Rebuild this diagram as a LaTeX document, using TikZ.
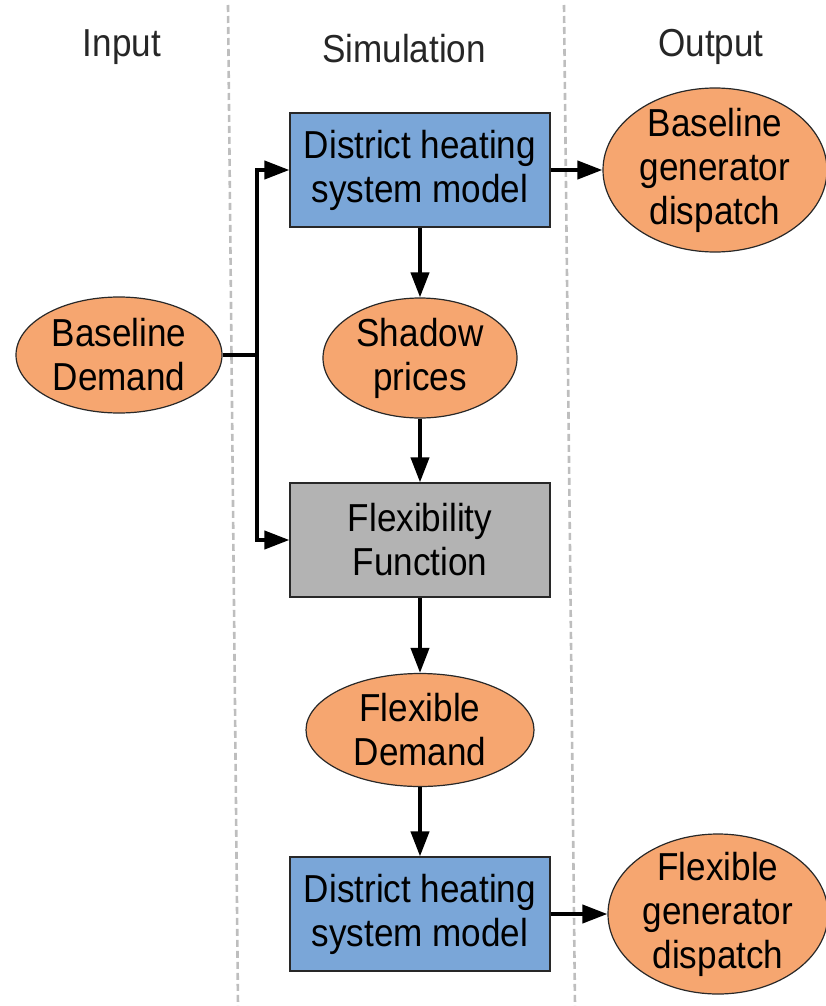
\documentclass[tikz,border=0pt]{standalone}
\usepackage{fontspec}
\setmainfont{Liberation Sans}[FakeStretch=0.9]
\usetikzlibrary{shapes.geometric,arrows.meta}
\definecolor{boxblue}{RGB}{122,166,216}
\definecolor{boxgray}{RGB}{179,179,179}
\definecolor{ovalorange}{RGB}{246,166,112}
\definecolor{sepgray}{RGB}{190,190,190}
\definecolor{bordergray}{RGB}{40,40,40}
\begin{document}
\begin{tikzpicture}[x=1pt,y=-1pt,
  every node/.style={font=\fontsize{39}{44}\selectfont, align=center, inner sep=0pt},
  procbox/.style={rectangle, draw=bordergray, line width=1.2pt, minimum width=260pt, minimum height=114pt},
  oval/.style={ellipse, draw=bordergray, line width=1.2pt, fill=ovalorange},
  header/.style={text=black!85, anchor=base},
  conn/.style={line width=4pt, draw=black},
  flow/.style={conn, -{Triangle[length=25pt,width=18pt]}},
  sep/.style={draw=sepgray, line width=2.6pt, dash pattern=on 7pt off 4pt}
]
\useasboundingbox (0,0) rectangle (825,1006);

% column separators
\draw[sep] (228,5) -- (238,1006);
\draw[sep] (564,5) -- (575,1006);

% headers
\node[header] (hin) at (122,57) {Input};
\node[header] (hsim) at (404,63) {Simulation};
\node[header] (hout) at (711,57) {Output};

% boxes
\node[procbox, fill=boxblue] (dh1) at (420,170) {District heating\\system model};
\node[procbox, fill=boxgray] (ff) at (420,540) {Flexibility\\Function};
\node[procbox, fill=boxblue] (dh2) at (420,914) {District heating\\system model};

% ovals
\node[oval, minimum width=206pt, minimum height=116pt] (bd) at (119,355) {};
\node at (bd) {Baseline\\Demand};
\node[oval, minimum width=194pt, minimum height=120pt] (sp) at (420,358) {};
\node at (sp) {Shadow\\prices};
\node[oval, minimum width=228pt, minimum height=113pt] (fd) at (420,730) {};
\node at (fd) {Flexible\\Demand};
\node[oval, minimum width=224pt, minimum height=164pt] (bgd) at (715,170) {};
\node at (bgd) {Baseline\\generator\\dispatch};
\node[oval, minimum width=220pt, minimum height=160pt] (fgd) at (718,914) {};
\node at (fgd) {Flexible\\generator\\dispatch};

% connectors
\coordinate (jn) at (257,355);
\draw[conn] (bd.east) -- (jn);
\draw[flow] (jn) |- (dh1.west);
\draw[flow] (jn) |- (ff.west);
\draw[flow] (dh1.east) -- (bgd.west);
\draw[flow] (dh1.south) -- (sp.north);
\draw[flow] (sp.south) -- (ff.north);
\draw[flow] (ff.south) -- (fd.north);
\draw[flow] (fd.south) -- (dh2.north);
\draw[flow] (dh2.east) -- (fgd.west);
\end{tikzpicture}
\end{document}
